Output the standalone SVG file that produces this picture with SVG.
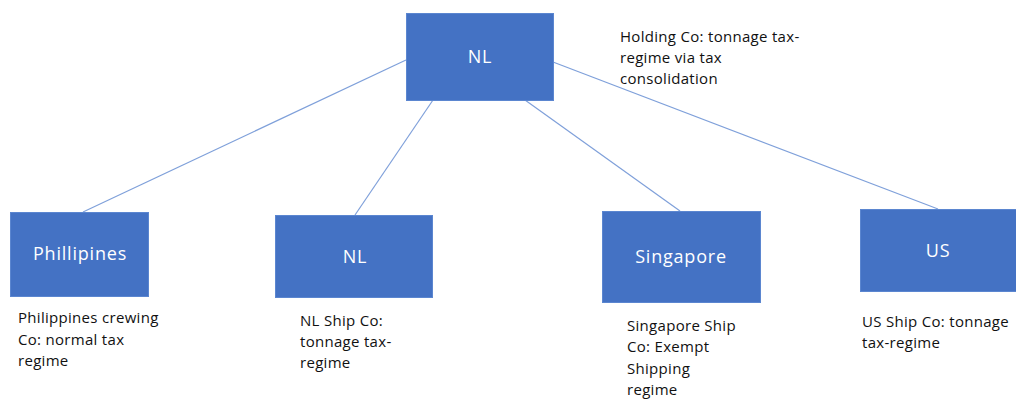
<svg xmlns="http://www.w3.org/2000/svg" width="1016" height="400" viewBox="0 0 1016 400">
<style>
.box{fill:#4472C4;stroke:#5B86D0;stroke-width:1}
.lbl{fill:#ffffff;font-family:"Open Sans","Liberation Sans",sans-serif;font-size:18px;letter-spacing:0.8px;text-anchor:middle}
.note{fill:#111111;font-family:"Open Sans","Liberation Sans",sans-serif;font-size:15px;letter-spacing:0.3px}
.edge{stroke:#7FA0DA;stroke-width:1.2;fill:none}
</style>
<rect width="1016" height="400" fill="#ffffff"/>
<g id="connectors">
<line class="edge" x1="406" y1="60" x2="83" y2="212"/>
<line class="edge" x1="433" y1="100" x2="355" y2="215"/>
<line class="edge" x1="525" y1="100" x2="680" y2="211"/>
<line class="edge" x1="553" y1="62" x2="938" y2="209"/>
</g>
<g id="node-nl-top">
<rect class="box" x="406.5" y="13.5" width="147" height="87"/>
<text class="lbl" x="480" y="63">NL</text>
</g>
<g id="node-philippines">
<rect class="box" x="10.5" y="212.5" width="138" height="84"/>
<text class="lbl" x="80" y="260">Phillipines</text>
</g>
<g id="node-nl-ship">
<rect class="box" x="275.5" y="215.5" width="157" height="82"/>
<text class="lbl" x="355" y="263">NL</text>
</g>
<g id="node-singapore">
<rect class="box" x="602.5" y="211.5" width="158" height="91"/>
<text class="lbl" x="681" y="263">Singapore</text>
</g>
<g id="node-us">
<rect class="box" x="860.5" y="209.5" width="156" height="82"/>
<text class="lbl" x="938" y="257">US</text>
</g>
<g id="notes">
<text class="note" x="620" y="42">Holding Co: tonnage tax-</text>
<text class="note" x="620" y="63">regime via tax</text>
<text class="note" x="620" y="84">consolidation</text>
<text class="note" x="18" y="323">Philippines crewing</text>
<text class="note" x="18" y="345">Co: normal tax</text>
<text class="note" x="18" y="366">regime</text>
<text class="note" x="300" y="326">NL Ship Co:</text>
<text class="note" x="300" y="347">tonnage tax-</text>
<text class="note" x="300" y="368">regime</text>
<text class="note" x="627" y="331">Singapore Ship</text>
<text class="note" x="627" y="352">Co: Exempt</text>
<text class="note" x="627" y="374">Shipping</text>
<text class="note" x="627" y="395">regime</text>
<text class="note" x="862" y="327">US Ship Co: tonnage</text>
<text class="note" x="862" y="348">tax-regime</text>
</g>
</svg>
